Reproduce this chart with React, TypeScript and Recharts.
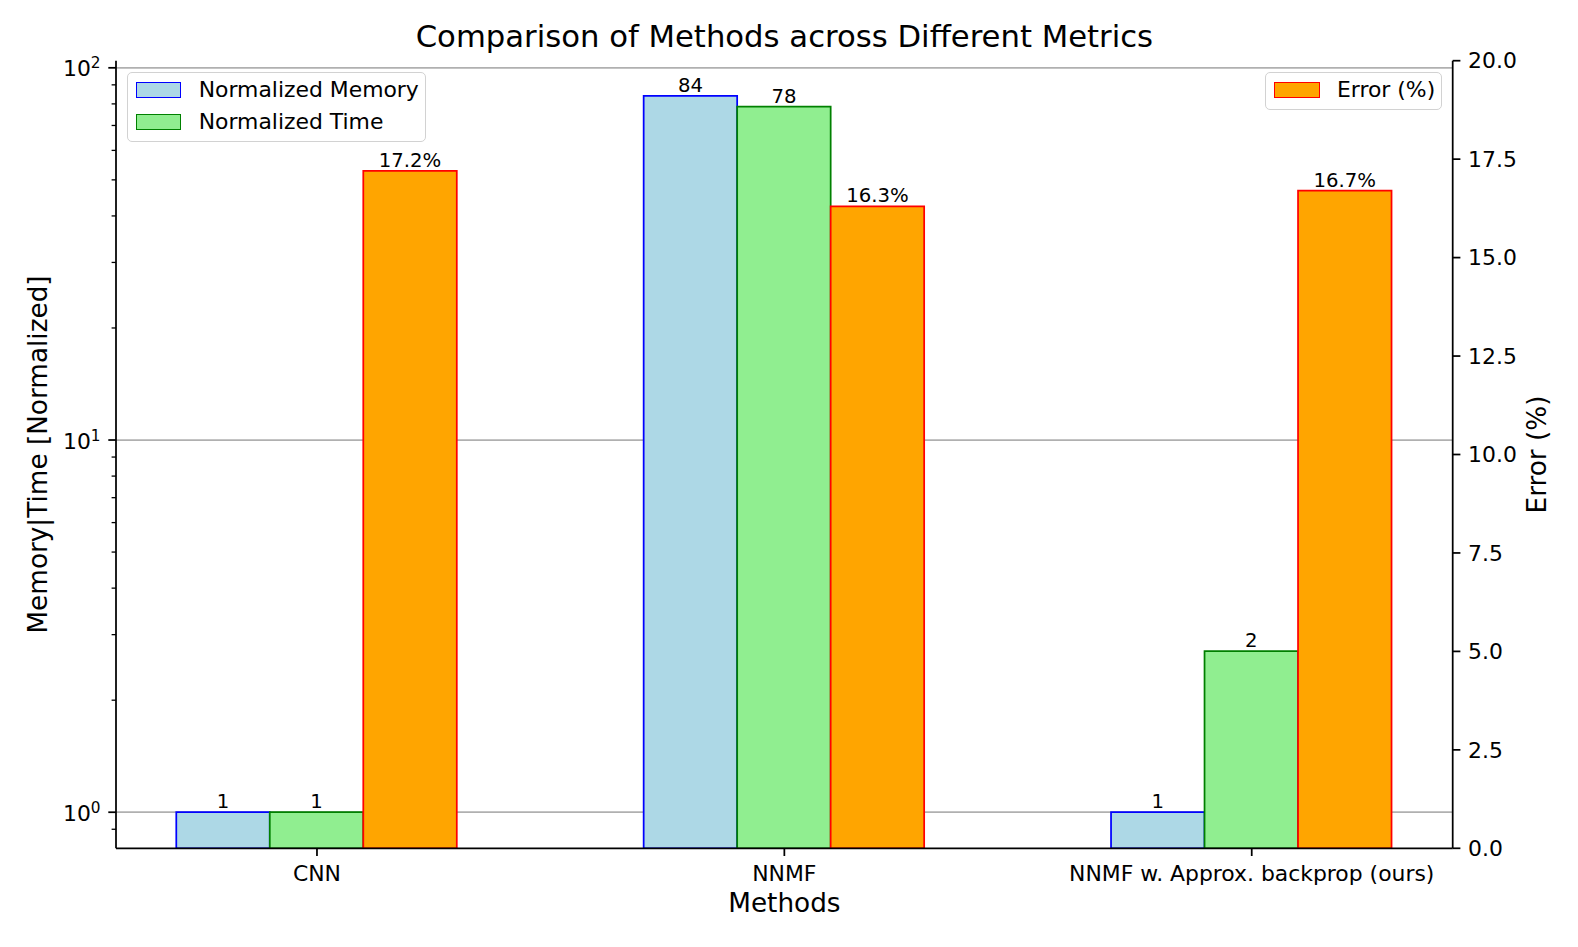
import React from 'react';
import { ComposedChart, Bar, XAxis, YAxis, CartesianGrid, Legend, LabelList } from 'recharts';

const methods = ['CNN', 'NNMF', 'NNMF w. Approx. backprop (ours)'];
const methodPositions = [0, 1, 2];
const normalizedMemory = [1, 84, 1];
const normalizedTime = [1, 78.6, 2.71];
const errorPercent = [17.2, 16.3, 16.7];

const logMajorTicks = [1, 10, 100];
const logMinorTicks = [0.9, 2, 3, 4, 5, 6, 7, 8, 9, 20, 30, 40, 50, 60, 70, 80, 90];
const errorTicks = [0, 2.5, 5, 7.5, 10, 12.5, 15, 17.5, 20];

const leftTicks = [...logMajorTicks, ...logMinorTicks].sort((a, b) => a - b);

const data = methods.map((m, i) => ({
  x: methodPositions[i],
  method: m,
  memory: normalizedMemory[i],
  time: normalizedTime[i],
  error: errorPercent[i],
}));

const FONT = '"DejaVu Sans", Verdana, sans-serif';
const TICK_SIZE = 7.7;
const TICK_MARGIN = 7.7;
const LINE_W = 1.75;

const seriesStyle: Record<string, { fill: string; stroke: string }> = {
  memory: { fill: '#ADD8E6', stroke: '#0000FF' },
  time: { fill: '#90EE90', stroke: '#008000' },
  error: { fill: '#FFA500', stroke: '#FF0000' },
};

const LeftTick = (props: any) => {
  const { x, y, payload } = props;
  const v = payload.value;
  const major = logMajorTicks.includes(v);
  const axisX = x + TICK_SIZE + TICK_MARGIN;
  const len = major ? 7.7 : 4.4;
  const exp = Math.round(Math.log10(v));
  return (
    <g>
      <line x1={axisX} x2={axisX - len} y1={y} y2={y} stroke="#000" strokeWidth={major ? LINE_W : 1.3} />
      {major && (
        <text x={x} y={y + 8.5} textAnchor="end" fontSize={21.9} fontFamily={FONT} fill="#000">
          10
          <tspan dy={-8} fontSize={15.3}>
            {exp}
          </tspan>
        </text>
      )}
    </g>
  );
};

const LegendBox = ({
  left,
  top,
  width,
  height,
  items,
}: {
  left: number;
  top: number;
  width: number;
  height: number;
  items: { key: string; label: string }[];
}) => (
  <div
    style={{
      position: 'absolute',
      left,
      top,
      width,
      height,
      boxSizing: 'border-box',
      border: '1.6px solid #d2d2d2',
      borderRadius: 5,
      background: 'rgba(255,255,255,0.8)',
      fontFamily: FONT,
      fontSize: 21.9,
      color: '#000',
    }}
  >
    {items.map((it, i) => {
      const st = seriesStyle[it.key] || { fill: '#ccc', stroke: '#000' };
      const cy = 17.3 + i * 32;
      return (
        <div key={it.key} style={{ position: 'absolute', left: 0, top: cy - 15, height: 30, width: width, whiteSpace: 'nowrap' }}>
          <div
            style={{
              position: 'absolute',
              left: 8,
              top: 15 - 8.35,
              width: 45.6,
              height: 16.7,
              boxSizing: 'border-box',
              border: `1.75px solid ${st.stroke}`,
              background: st.fill,
            }}
          />
          <div style={{ position: 'absolute', left: 71, top: 0, height: 30, lineHeight: '30px' }}>{it.label}</div>
        </div>
      );
    })}
  </div>
);

const renderLegend = (props: any) => {
  const payload: any[] = props.payload || [];
  const items = payload.map((p) => ({ key: String(p.dataKey), label: String(p.value) }));
  const leftItems = items.filter((i) => i.key === 'memory' || i.key === 'time');
  const rightItems = items.filter((i) => i.key === 'error');
  return (
    <div style={{ position: 'relative', width: 0, height: 0 }}>
      <LegendBox left={126.7} top={71.7} width={299.3} height={70} items={leftItems} />
      <LegendBox left={1265} top={71.7} width={177.3} height={38.6} items={rightItems} />
    </div>
  );
};

export default function App() {
  const axisLine = { stroke: '#000', strokeWidth: LINE_W };
  const tickStyle = { fill: '#000', fontSize: 21.9, fontFamily: FONT };
  return (
    <div style={{ position: 'absolute', left: 0, top: 0, width: 1578, height: 947, background: '#fff' }}>
      <ComposedChart
        width={1578}
        height={947}
        data={data}
        margin={{ top: 60.7, right: 45.3, bottom: 38.7, left: 36 }}
        barGap={0}
        style={{ fontFamily: FONT }}
      >
        <CartesianGrid
          yAxisId="left"
          vertical={false}
          stroke="#b0b0b0"
          strokeWidth={LINE_W}
          horizontalValues={logMajorTicks}
        />
        <XAxis
          dataKey="x"
          type="number"
          domain={[-0.43, 2.43]}
          allowDataOverflow
          ticks={methodPositions}
          interval={0}
          tickFormatter={(v: number) => methods[v] ?? ''}
          height={60}
          tickSize={TICK_SIZE}
          tickMargin={9.2}
          tickLine={{ stroke: '#000', strokeWidth: LINE_W }}
          axisLine={axisLine}
          tick={tickStyle}
        />
        <XAxis
          xAxisId="top"
          orientation="top"
          type="number"
          domain={[-0.43, 2.43]}
          allowDataOverflow
          height={0}
          tick={false}
          tickLine={false}
          axisLine={axisLine}
        />
        <YAxis
          yAxisId="left"
          scale="log"
          type="number"
          domain={[0.8, 104.5]}
          allowDataOverflow
          ticks={leftTicks}
          interval={0}
          width={80}
          tickSize={TICK_SIZE}
          tickMargin={TICK_MARGIN}
          tickLine={{ stroke: 'none' }}
          axisLine={axisLine}
          tick={<LeftTick />}
        />
        <YAxis
          yAxisId="right"
          orientation="right"
          type="number"
          domain={[0, 20]}
          allowDataOverflow
          ticks={errorTicks}
          interval={0}
          tickFormatter={(v: number) => v.toFixed(1)}
          width={80}
          tickSize={TICK_SIZE}
          tickMargin={TICK_MARGIN}
          tickLine={{ stroke: '#000', strokeWidth: LINE_W }}
          axisLine={axisLine}
          tick={tickStyle}
        />
        <Legend wrapperStyle={{ left: 0, top: 0, width: 0, height: 0 }} content={renderLegend} />
        <Bar
          yAxisId="left"
          dataKey="memory"
          name="Normalized Memory"
          fill={seriesStyle.memory.fill}
          stroke={seriesStyle.memory.stroke}
          strokeWidth={LINE_W}
          barSize={93.5}
          isAnimationActive={false}
        >
          <LabelList
            dataKey="memory"
            position="top"
            offset={4}
            formatter={(v: any) => String(Math.floor(Number(v)))}
            fill="#000"
            fontSize={19.7}
            fontFamily={FONT}
          />
        </Bar>
        <Bar
          yAxisId="left"
          dataKey="time"
          name="Normalized Time"
          fill={seriesStyle.time.fill}
          stroke={seriesStyle.time.stroke}
          strokeWidth={LINE_W}
          barSize={93.5}
          isAnimationActive={false}
        >
          <LabelList
            dataKey="time"
            position="top"
            offset={4}
            formatter={(v: any) => String(Math.floor(Number(v)))}
            fill="#000"
            fontSize={19.7}
            fontFamily={FONT}
          />
        </Bar>
        <Bar
          yAxisId="right"
          dataKey="error"
          name="Error (%)"
          fill={seriesStyle.error.fill}
          stroke={seriesStyle.error.stroke}
          strokeWidth={LINE_W}
          barSize={93.5}
          isAnimationActive={false}
        >
          <LabelList
            dataKey="error"
            position="top"
            offset={4}
            formatter={(v: any) => `${Number(v).toFixed(1)}%`}
            fill="#000"
            fontSize={19.7}
            fontFamily={FONT}
          />
        </Bar>
      </ComposedChart>
      <svg
        width={1578}
        height={947}
        style={{ position: 'absolute', left: 0, top: 0, pointerEvents: 'none' }}
      >
        <text x={784.4} y={46.5} textAnchor="middle" fontSize={30.7} fontFamily={FONT} fill="#000">
          Comparison of Methods across Different Metrics
        </text>
        <text x={784.4} y={912} textAnchor="middle" fontSize={26.3} fontFamily={FONT} fill="#000">
          Methods
        </text>
        <text
          x={46.5}
          y={454.5}
          textAnchor="middle"
          fontSize={26.3}
          fontFamily={FONT}
          fill="#000"
          transform="rotate(-90 46.5 454.5)"
        >
          Memory|Time [Normalized]
        </text>
        <text
          x={1545.5}
          y={454.5}
          textAnchor="middle"
          fontSize={26.3}
          fontFamily={FONT}
          fill="#000"
          transform="rotate(-90 1545.5 454.5)"
        >
          Error (%)
        </text>
      </svg>
    </div>
  );
}
